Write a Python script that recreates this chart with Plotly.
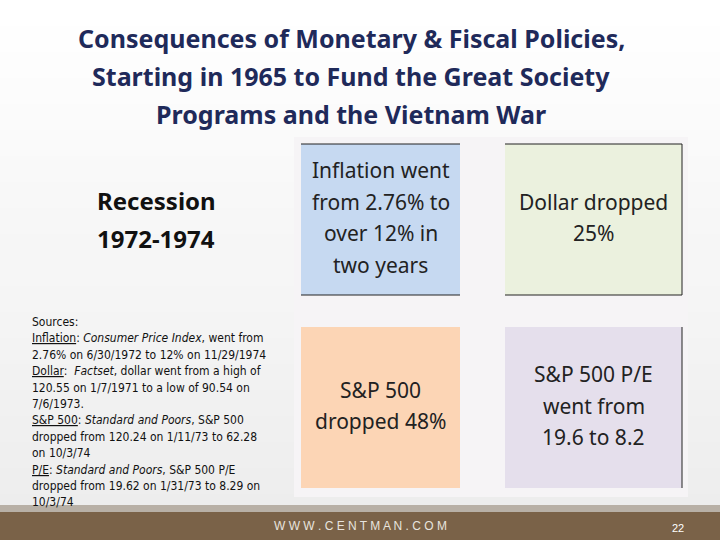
import plotly.graph_objects as go

title_lines = ["Consequences of Monetary &amp; Fiscal Policies,",
               "Starting in 1965 to Fund the Great Society",
               "Programs and the Vietnam War"]
headline = ["Recession", "1972-1974"]
box_lines = [["Inflation went", "from 2.76% to", "over 12% in", "two years"],
             ["Dollar dropped", "25%"],
             ["S&amp;P 500", "dropped 48%"],
             ["S&amp;P 500 P/E", "went from", "19.6 to 8.2"]]
source_lines = ["Sources:",
                "<u>Inflation</u>: <i>Consumer Price Index</i>, went from",
                "2.76% on 6/30/1972 to 12% on 11/29/1974",
                "<u>Dollar</u>:  <i>Factset</i>, dollar went from a high of",
                "120.55 on 1/7/1971 to a low of 90.54 on",
                "7/6/1973.",
                "<u>S&amp;P 500</u>: <i>Standard and Poors</i>, S&amp;P 500",
                "dropped from 120.24 on 1/11/73 to 62.28",
                "on 10/3/74",
                "<u>P/E</u>: <i>Standard and Poors</i>, S&amp;P 500 P/E",
                "dropped from 19.62 on 1/31/73 to 8.29 on",
                "10/3/74"]
footer_text = "W W W . C E N T M A N . C O M"
page_number = "22"

box_colors = ["#c6d9f1", "#ebf1de", "#fcd5b5", "#e5dfec"]
box_rects = [(301, 144, 460, 295), (505, 144, 682, 295), (301, 327, 460, 488), (505, 327, 682, 488)]

fig = go.Figure()
fig.add_trace(go.Scatter(x=[0, 720], y=[0, 540], mode="markers", marker=dict(opacity=0), hoverinfo="skip", showlegend=False))

shapes = []
for i in range(20):
    g = int(255 - i * 0.9)
    shapes.append(dict(type="rect", x0=0, x1=720, y0=i * 26, y1=(i + 1) * 26 + 1, fillcolor=f"rgb({g},{g},{g})", line_width=0, layer="below"))
shapes.append(dict(type="rect", x0=294, x1=688, y0=137, y1=497, fillcolor="#f6f4f6", line_width=0, layer="below"))
for (x0, y0, x1, y1), c in zip(box_rects, box_colors):
    shapes.append(dict(type="rect", x0=x0, x1=x1, y0=y0, y1=y1, fillcolor=c, line_width=0))
for (x0, y0, x1, y1) in box_rects[:2]:
    shapes.append(dict(type="line", x0=x0, x1=x1, y0=y0, y1=y0, line=dict(color="#222", width=1)))
    shapes.append(dict(type="line", x0=x0, x1=x1, y0=y1, y1=y1, line=dict(color="#222", width=1)))
shapes.append(dict(type="line", x0=682, x1=682, y0=144, y1=295, line=dict(color="#222", width=1)))
shapes.append(dict(type="line", x0=682, x1=682, y0=327, y1=488, line=dict(color="#222", width=1)))
shapes.append(dict(type="rect", x0=0, x1=720, y0=505, y1=512, fillcolor="#b8b0a6", line_width=0))
shapes.append(dict(type="rect", x0=0, x1=720, y0=512, y1=540, fillcolor="#7a6248", line_width=0))

ann = []
for i, t in enumerate(title_lines):
    ann.append(dict(x=351, y=38 + i * 38, text=f"<b>{t}</b>", showarrow=False,
                    font=dict(family="Noto Sans", size=25, color="#1f2a5a")))
for i, t in enumerate(headline):
    ann.append(dict(x=156, y=200 + i * 38, text=f"<b>{t}</b>", showarrow=False,
                    font=dict(family="Noto Sans", size=24, color="#111")))
for (x0, y0, x1, y1), lines in zip(box_rects, box_lines):
    cy = (y0 + y1) / 2 - 2
    n = len(lines)
    for j, t in enumerate(lines):
        ann.append(dict(x=(x0 + x1) / 2, y=cy + (j - (n - 1) / 2) * 31.5, text=t, showarrow=False,
                        font=dict(family="Noto Sans", size=21, color="#222")))
for i, t in enumerate(source_lines):
    ann.append(dict(x=30, y=322 + i * 16.4, text=t, showarrow=False, xanchor="left",
                    font=dict(family="DejaVu Sans Condensed", size=12, color="#111")))
ann.append(dict(x=360, y=526, text=footer_text, showarrow=False,
                font=dict(family="Liberation Sans", size=12, color="#e8e4df")))
ann.append(dict(x=678, y=528, text=page_number, showarrow=False,
                font=dict(family="Liberation Sans", size=11, color="#ffffff")))

fig.update_layout(width=720, height=540, margin=dict(l=0, r=0, t=0, b=0),
                  paper_bgcolor="white", plot_bgcolor="white", shapes=shapes, annotations=ann,
                  xaxis=dict(range=[0, 720], visible=False, fixedrange=True),
                  yaxis=dict(range=[540, 0], visible=False, fixedrange=True))
fig.write_html("out.html", config={"displayModeBar": False},
               post_script="document.body.style.margin='0';")
